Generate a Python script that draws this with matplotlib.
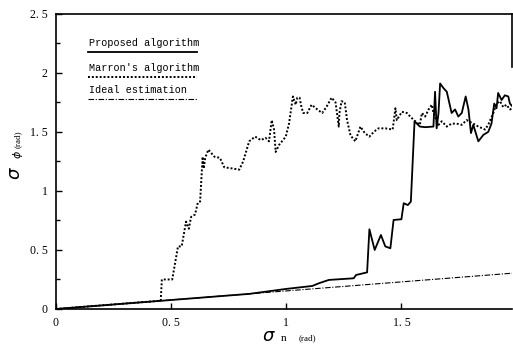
from matplotlib import pyplot as plt
import numpy as np

# values
marron_x = [0, 0.455, 0.46, 0.505, 0.53, 0.546, 0.565, 0.577, 0.587, 0.604, 0.616, 0.626,
            0.637, 0.642, 0.648, 0.662, 0.688, 0.712, 0.731, 0.767, 0.796, 0.813, 0.839,
            0.865, 0.89, 0.91, 0.925, 0.937, 0.947, 0.954, 0.969, 0.998, 1.012, 1.029,
            1.041, 1.048, 1.058, 1.066, 1.074, 1.091, 1.11, 1.135, 1.156, 1.174, 1.197,
            1.214, 1.228, 1.231, 1.24, 1.254, 1.264, 1.279, 1.30, 1.322, 1.341, 1.361,
            1.38, 1.40, 1.43, 1.462, 1.474, 1.48, 1.502, 1.524, 1.538, 1.56, 1.58, 1.589,
            1.603, 1.618, 1.632, 1.639, 1.661, 1.675, 1.697, 1.718, 1.74, 1.762, 1.783,
            1.812, 1.834, 1.863, 1.877, 1.899, 1.913, 1.928, 1.942, 1.956, 1.971, 1.98]
marron_y = [0, 0.07, 0.25, 0.25, 0.53, 0.53, 0.74, 0.68, 0.78, 0.80, 0.90, 0.91,
            1.29, 1.19, 1.28, 1.35, 1.29, 1.28, 1.20, 1.19, 1.18, 1.25, 1.42,
            1.46, 1.43, 1.45, 1.42, 1.60, 1.52, 1.33, 1.39, 1.46, 1.57, 1.80,
            1.73, 1.79, 1.79, 1.71, 1.66, 1.66, 1.73, 1.69, 1.66, 1.71, 1.79,
            1.75, 1.545, 1.66, 1.76, 1.75, 1.60, 1.47, 1.42, 1.545, 1.49, 1.46,
            1.50, 1.53, 1.53, 1.52, 1.70, 1.60, 1.67, 1.66, 1.63, 1.59, 1.56, 1.66,
            1.63, 1.69, 1.73, 1.66, 1.56, 1.59, 1.545, 1.57, 1.57, 1.56, 1.60,
            1.57, 1.545, 1.52, 1.56, 1.66, 1.74, 1.76, 1.71, 1.73, 1.69, 1.70]

proposed_x = [0, 0.5, 0.84, 1.0, 1.113, 1.142, 1.185, 1.293, 1.303, 1.351, 1.361, 1.384,
              1.411, 1.43, 1.452, 1.466, 1.50, 1.51, 1.528, 1.541, 1.557, 1.58, 1.603,
              1.639, 1.646, 1.653, 1.661, 1.668, 1.683, 1.697, 1.718, 1.733, 1.747,
              1.762, 1.779, 1.791, 1.802, 1.812, 1.834, 1.856, 1.877, 1.891, 1.903,
              1.913, 1.92, 1.935, 1.949, 1.964, 1.971, 1.98]
proposed_y = [0, 0.076, 0.128, 0.17, 0.195, 0.218, 0.246, 0.26, 0.288, 0.31, 0.675, 0.50,
              0.627, 0.53, 0.514, 0.754, 0.76, 0.896, 0.88, 0.91, 1.59, 1.545, 1.54,
              1.545, 1.84, 1.53, 1.66, 1.91, 1.87, 1.84, 1.66, 1.69, 1.63,
              1.66, 1.80, 1.69, 1.49, 1.56, 1.42, 1.475, 1.50, 1.57, 1.74,
              1.70, 1.83, 1.77, 1.81, 1.80, 1.74, 1.72]

ideal_x = [0, 1.98]
ideal_y = [0, 0.303]

legend_names = ['Proposed algorithm', "Marron's algorithm", 'Ideal estimation']
x_ticks = [0, 0.5, 1, 1.5]
x_tick_labels = ['0', '0. 5', '1', '1. 5']
y_ticks = [0, 0.5, 1, 1.5, 2, 2.5]
y_tick_labels = ['0', '0. 5', '1', '1. 5', '2', '2. 5']

plt.rcParams['font.family'] = ['Liberation Serif', 'DejaVu Serif']

fig = plt.figure(figsize=(5.13, 3.46), dpi=100)
ax = fig.add_axes([0.109, 0.107, 0.889, 0.853])

dotted = (0, (1, 1))
dashdot = (0, (5, 1.5, 1, 1.5))
ax.plot(ideal_x, ideal_y, color='black', lw=0.8, ls=dashdot)
ax.plot(marron_x, marron_y, color='black', lw=1.4, ls=dotted)
ax.plot(proposed_x, proposed_y, color='black', lw=1.3)

# hand-drawn style legend: text with the line style underneath
styles = ['-', dotted, dashdot]
widths = [1.3, 1.4, 0.8]
line_y = [2.178, 1.966, 1.78]
for name, st, w, ly in zip(legend_names, styles, widths, line_y):
    ax.plot([0.139, 0.613], [ly, ly], color='black', lw=w, ls=st)
    ax.text(0.145, ly + 0.03, name, fontsize=7.3, family='Liberation Mono', va='bottom')

ax.set_xlim(0, 1.98)
ax.set_ylim(0, 2.5)
ax.set_xticks(x_ticks)
ax.set_xticklabels(x_tick_labels)
ax.set_yticks(y_ticks)
ax.set_yticklabels(y_tick_labels)
ax.set_yticks(np.arange(0.25, 2.5, 0.5), minor=True)
ax.tick_params(direction='in', length=4, width=1, labelsize=8.5, pad=6)
ax.tick_params(which='minor', direction='in', length=3, width=1)

for s in ['left', 'bottom', 'top', 'right']:
    ax.spines[s].set_linewidth(1.2)
ax.spines['right'].set_bounds(2.05, 2.5)

# axis labels, pieced together like the original
fig.text(0.03, 0.50, r'$\sigma$', fontsize=13, rotation=90, ha='center', va='center')
fig.text(0.035, 0.553, r'$\phi$', fontsize=8, rotation=90, ha='center', va='center')
fig.text(0.035, 0.598, '(rad)', fontsize=6.5, rotation=90, ha='center', va='center')
fig.text(0.525, 0.028, r'$\sigma$', fontsize=13, ha='center', va='center')
fig.text(0.553, 0.022, 'n', fontsize=8, ha='center', va='center')
fig.text(0.6, 0.022, '(rad)', fontsize=6.5, ha='center', va='center')

plt.savefig('out.png', dpi=100)
